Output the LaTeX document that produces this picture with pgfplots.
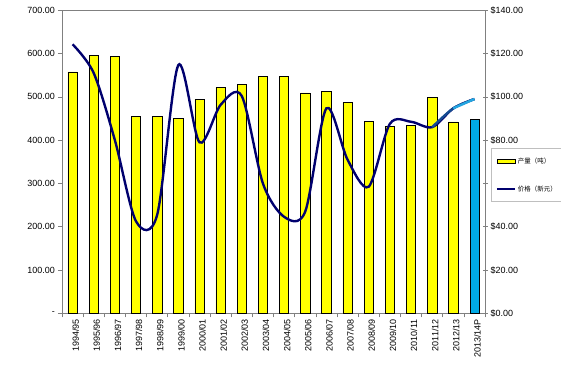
\documentclass[border=0pt]{standalone}
\usepackage{fontspec}
\setmainfont{Liberation Sans}
\newfontfamily\cjk{Noto Sans CJK SC}
\usepackage{pgfplots}
\pgfplotsset{compat=1.18}
\definecolor{barYellow}{RGB}{255,255,0}
\definecolor{barBlue}{RGB}{0,170,230}
\definecolor{lineNavy}{RGB}{0,0,110}
\definecolor{lineLight}{RGB}{35,165,225}
\definecolor{lineMid}{RGB}{20,75,145}
\definecolor{axisGray}{RGB}{128,128,128}
\begin{document}
\begin{tikzpicture}
\begin{axis}[
  scale only axis, width=423bp, height=303bp,
  xmin=-0.5, xmax=19.5, ymin=0, ymax=700,
  axis line style={axisGray, line width=0.6pt},
  xtick={0,...,19},
  xticklabels={1994/95,1995/96,1996/97,1997/98,1998/99,1999/00,2000/01,2001/02,2002/03,2003/04,2004/05,2005/06,2006/07,2007/08,2008/09,2009/10,2010/11,2011/12,2012/13,2013/14P},
  minor xtick={-0.5,0.5,...,19.5},
  major x tick style={draw=none},
  minor x tick style={axisGray, line width=0.6pt},
  minor tick length=4bp, major tick length=4bp,
  tick align=outside,
  ytick={0,100,...,700},
  yticklabels={-,100.00,200.00,300.00,400.00,500.00,600.00,700.00},
  y tick style={axisGray, line width=0.6pt},
  ytick pos=left, xtick pos=bottom,
  tick label style={font=\fontsize{9}{10}\selectfont},
  xticklabel style={rotate=90, anchor=east, inner sep=2bp, yshift=-3bp},
  yticklabel style={inner sep=3bp},
]
\addplot[ybar, bar shift=0pt, bar width=0.44, fill=barYellow, draw=black, line width=0.5pt] coordinates {
(0,558) (1,595) (2,593) (3,455) (4,455) (5,450) (6,495) (7,522) (8,529) (9,548)
(10,548) (11,509) (12,512) (13,487) (14,443) (15,431) (16,434) (17,498) (18,442)};
\addplot[ybar, bar shift=0pt, bar width=0.44, fill=barBlue, draw=black, line width=0.5pt] coordinates {(19,449)};
\end{axis}
\begin{axis}[
  scale only axis, width=423bp, height=303bp,
  xmin=-0.5, xmax=19.5, ymin=0, ymax=140,
  axis y line*=right, axis x line=none,
  axis line style={axisGray, line width=0.6pt},
  ytick={0,20,...,140},
  yticklabels={\$0.00,\$20.00,\$40.00,{},\$80.00,\$100.00,\$120.00,\$140.00},
  y tick style={axisGray, line width=0.6pt},
  major tick length=5bp,
  tick align=center,
  tick label style={font=\fontsize{9}{10}\selectfont},
  yticklabel style={inner sep=3bp},
  legend style={at={(1.0135,0.5446)}, anchor=north west, draw=gray!50, fill=white,
    font=\cjk\fontsize{6.5}{7.5}\selectfont, row sep=17bp, inner xsep=5bp, inner ysep=7bp},
  legend cell align=left,
]
\addlegendimage{legend image code/.code={\draw[fill=barYellow,draw=black,line width=0.5pt] (0bp,-1.8bp) rectangle (18bp,1.8bp);}}
\addlegendentry{产量（吨）\hspace*{25bp}}
\addplot[smooth, lineNavy, line width=2.4pt,
  legend image code/.code={\draw[lineNavy,line width=2pt] (0bp,0bp) -- (18bp,0bp);}] coordinates {
(0,124.3) (1,111) (2,80) (3,42.5) (4,45.5) (5,114.7) (6,79) (7,96.3) (8,100.4) (9,60)
(10,44.6) (11,47) (12,94.7) (13,71) (14,58.5) (15,87.5) (16,88.5) (17,86) (18,94.7) (19,99)};
\addlegendentry{价格（新元）}
\addplot[smooth, lineMid, line width=2.4pt, forget plot] coordinates {(17,86) (18,94.7) (19,99)};
\addplot[smooth, lineLight, line width=2.4pt, forget plot] coordinates {(18,94.7) (19,99)};
\end{axis}
\pgfresetboundingbox
\path[use as bounding box] (-62bp,-57.7bp) rectangle (499bp,313.3bp);
\end{tikzpicture}
\end{document}
